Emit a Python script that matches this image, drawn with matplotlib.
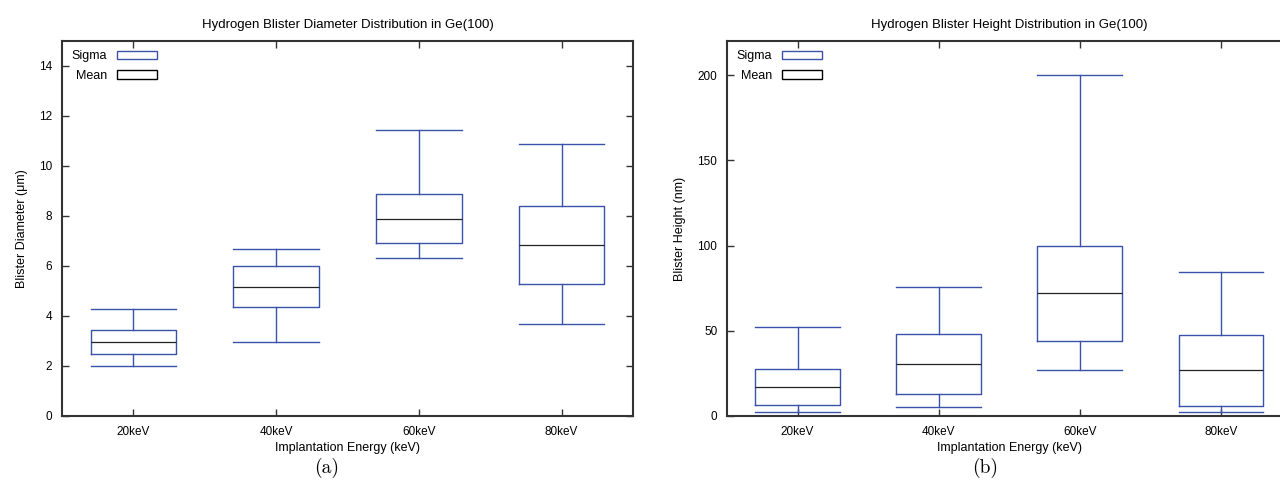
import matplotlib
matplotlib.use('Agg')
import matplotlib.pyplot as plt
from matplotlib.patches import Patch

plt.rcParams['font.family'] = ['Liberation Sans', 'DejaVu Sans']

energies = ['20keV', '40keV', '60keV', '80keV']

# diameter (um): whisker low, box low, mean, box high, whisker high
dia_lo = [1.99, 2.96, 6.33, 3.69]
dia_q1 = [2.48, 4.35, 6.92, 5.27]
dia_mean = [2.97, 5.16, 7.89, 6.84]
dia_q3 = [3.45, 6.00, 8.88, 8.41]
dia_hi = [4.27, 6.68, 11.44, 10.89]

# height (nm)
hgt_lo = [2.3, 5.5, 26.9, 2.5]
hgt_q1 = [6.6, 12.7, 43.8, 5.9]
hgt_mean = [17.0, 30.5, 71.9, 26.8]
hgt_q3 = [27.3, 48.2, 99.6, 47.5]
hgt_hi = [52.0, 75.8, 200.0, 84.4]

blue = '#3a52ac'
axcol = '#333333'


def draw(ax, lo, q1, mean, q3, hi, title, ylabel, ylim, yticks):
    stats = []
    for i in range(len(energies)):
        stats.append(dict(whislo=lo[i], q1=q1[i], med=mean[i], q3=q3[i],
                          whishi=hi[i], fliers=[]))
    pos = list(range(1, len(energies) + 1))
    ax.bxp(stats, positions=pos, widths=0.6, capwidths=0.6,
           boxprops=dict(color=blue, lw=1),
           whiskerprops=dict(color=blue, lw=1),
           capprops=dict(color=blue, lw=1),
           medianprops=dict(color='#222222', lw=0.9),
           showfliers=False)
    ax.set_xlim(0.5, 4.5)
    ax.set_ylim(*ylim)
    ax.set_xticks(pos)
    ax.set_xticklabels(energies)
    ax.set_yticks(yticks)
    ax.tick_params(direction='in', top=True, right=True, length=5,
                   width=1, color=axcol, labelsize=8.5, pad=7)
    for s in ax.spines.values():
        s.set_color(axcol)
        s.set_linewidth(1.5)
    ax.set_title(title, fontsize=9.5, pad=9)
    ax.set_xlabel('Implantation Energy (keV)', fontsize=9, labelpad=3)
    ax.set_ylabel(ylabel, fontsize=9, labelpad=8)
    handles = [Patch(facecolor='none', edgecolor=blue, lw=1),
               Patch(facecolor='none', edgecolor='black', lw=1)]
    ax.legend(handles, ['Sigma', 'Mean'], loc='upper left', frameon=False,
              markerfirst=False, fontsize=9, handlelength=3.2, handleheight=0.7,
              handletextpad=0.8, labelspacing=0.6, borderaxespad=0.3,
              borderpad=0.45)


fig = plt.figure(figsize=(12.8, 4.82), dpi=100)
ax1 = fig.add_axes([62 / 1280, 66 / 482, 571 / 1280, 375 / 482])
ax2 = fig.add_axes([727 / 1280, 66 / 482, 564.5 / 1280, 375 / 482])

draw(ax1, dia_lo, dia_q1, dia_mean, dia_q3, dia_hi,
     'Hydrogen Blister Diameter Distribution in Ge(100)',
     'Blister Diameter (\u03bcm)', (0, 15), range(0, 15, 2))
draw(ax2, hgt_lo, hgt_q1, hgt_mean, hgt_q3, hgt_hi,
     'Hydrogen Blister Height Distribution in Ge(100)',
     'Blister Height (nm)', (0, 220), range(0, 201, 50))

fig.text(327 / 1280, 14 / 482, '(a)', family='cmr10', fontsize=14,
         ha='center', va='center')
fig.text(985 / 1280, 14 / 482, '(b)', family='cmr10', fontsize=14,
         ha='center', va='center')

fig.savefig('out.png', dpi=100)
